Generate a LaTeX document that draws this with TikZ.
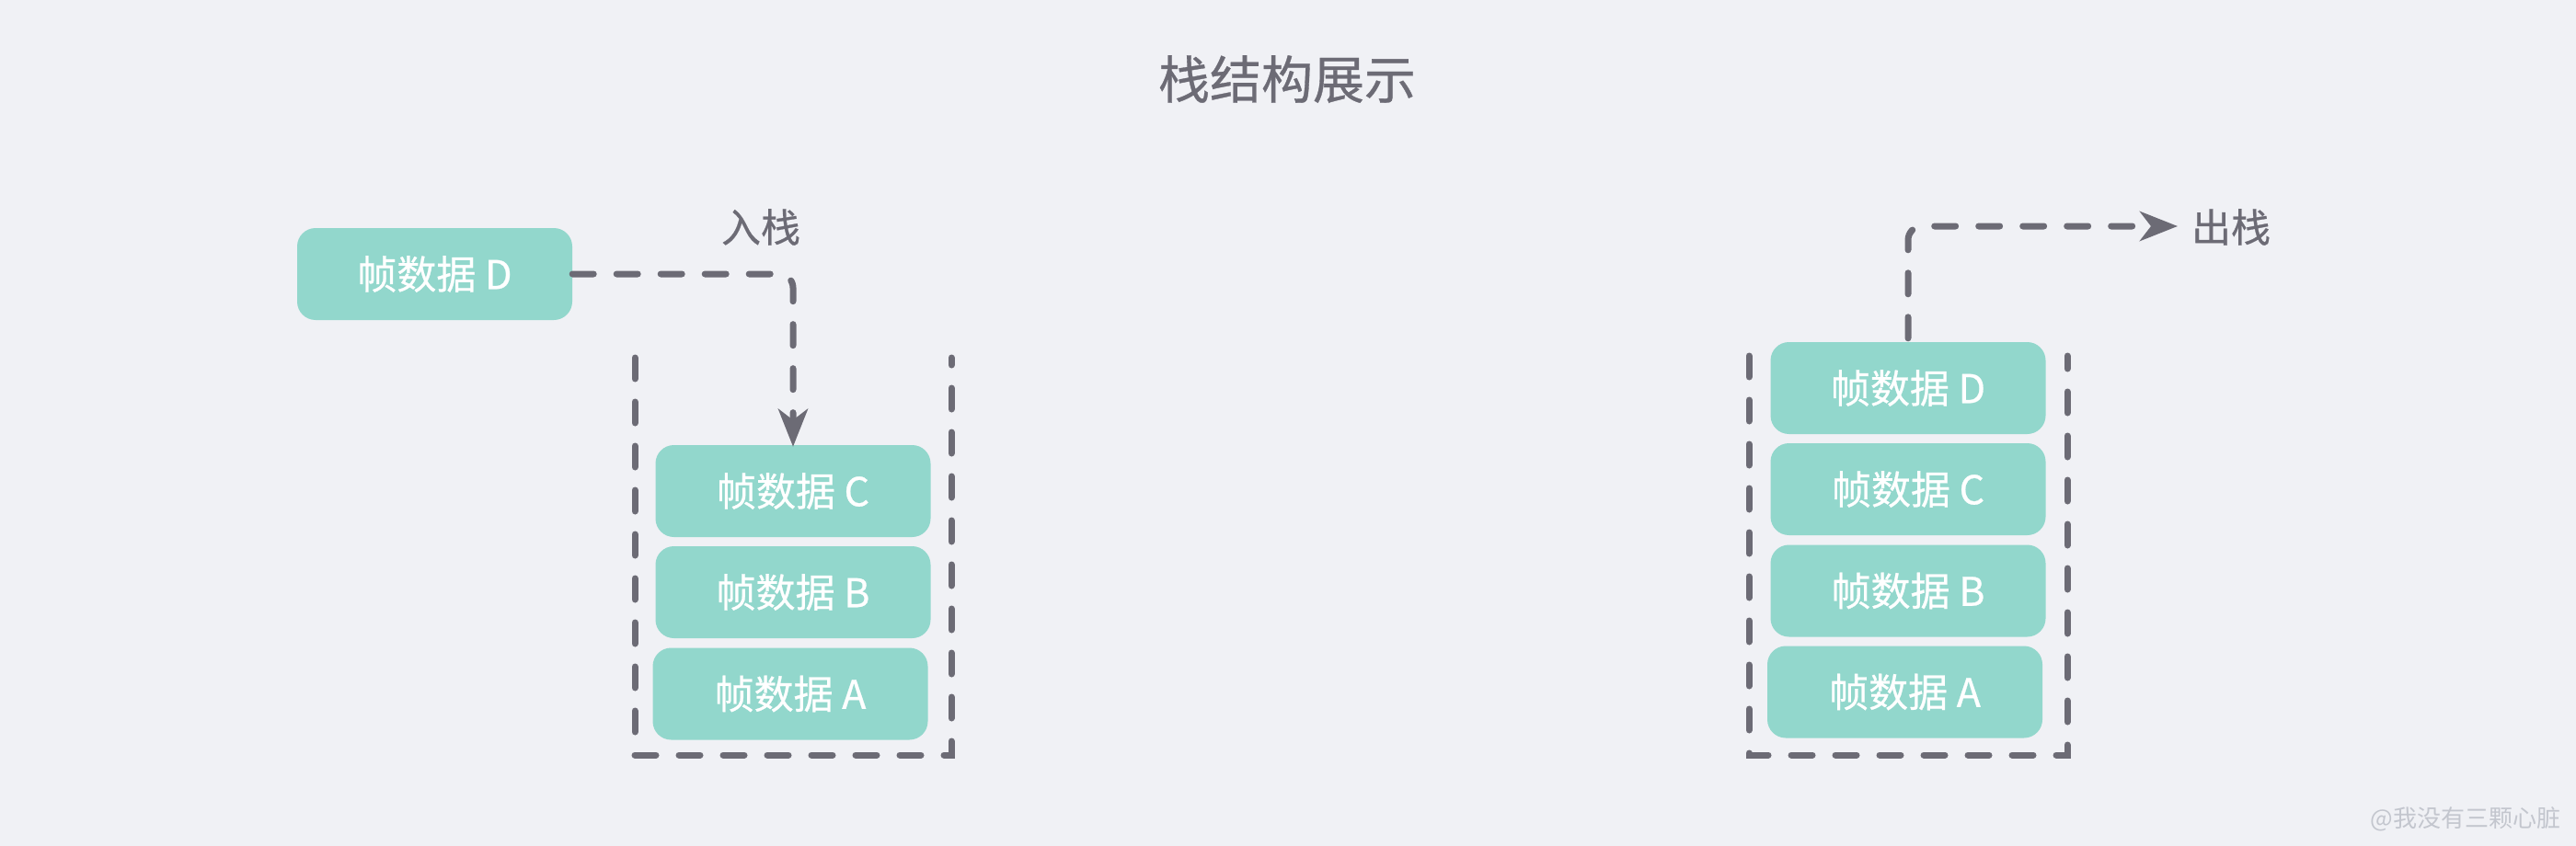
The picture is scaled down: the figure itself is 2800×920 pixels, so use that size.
\documentclass[tikz,border=0pt]{standalone}
\usepackage{fontspec}
\setmainfont{Noto Sans CJK SC}
\newfontfamily\medfont{Noto Sans CJK SC}[FakeBold=0.6]
\usetikzlibrary{arrows.meta}
\definecolor{bgc}{HTML}{F0F1F5}
\definecolor{boxc}{HTML}{92D7CC}
\definecolor{linec}{HTML}{6C6B75}
\definecolor{wmc}{HTML}{C3C6CE}
\tikzset{
  framebox/.style={fill=boxc, draw=none, rounded corners=20pt, minimum width=299pt, minimum height=100pt, inner sep=0pt, text=white, font=\medfont\fontsize{43}{48}\selectfont},
  dashline/.style={draw=linec, line width=7pt, line cap=round, dash pattern=on 23pt off 25pt},
  flow/.style={dashline, rounded corners=15pt, -{Stealth[length=41pt,width=32pt,inset=12pt]}},
  lbl/.style={text=linec, inner sep=0pt, font=\medfont\fontsize{43}{48}\selectfont},
}
\begin{document}
\begin{tikzpicture}[x=1pt,y=-1pt]
\fill[bgc] (0,0) rectangle (2800,920);
\useasboundingbox (0,0) rectangle (2800,920);
\node[text=linec, inner sep=0pt, font=\medfont\fontsize{56}{60}\selectfont] (title) at (1399,86) {栈结构展示};
% left stack
\node[framebox] (D1) at (472.5,298) {帧数据 D};
\node[framebox] (C1) at (862,534) {帧数据 C};
\node[framebox] (B1) at (862,644) {帧数据 B};
\node[framebox] (A1) at (859,754.5) {帧数据 A};
\coordinate (L1a) at (690,389);
\coordinate (L1b) at (690,821);
\coordinate (L1c) at (1034,821);
\coordinate (L1d) at (1034,389);
\draw[dashline] (L1a) -- (L1b) -- (L1c) -- (L1d);
\node[lbl] (push) at (827,247) {入栈};
\draw[flow] (D1.east) -| ([yshift=-2pt]C1.north);
% right stack
\node[framebox] (D2) at (2074,422) {帧数据 D};
\node[framebox] (C2) at (2074,532) {帧数据 C};
\node[framebox] (B2) at (2074,642.5) {帧数据 B};
\node[framebox] (A2) at (2070.5,752.5) {帧数据 A};
\coordinate (R1a) at (1901,387);
\coordinate (R1b) at (1901,821);
\coordinate (R1c) at (2247,821);
\coordinate (R1d) at (2247,387);
\draw[dashline] (R1a) -- (R1b) -- (R1c) -- (R1d);
\node[lbl] (pop) at (2425,247) {出栈};
\coordinate (popend) at (2367,246);
\draw[flow] ([yshift=4pt]D2.north) |- (popend);
\node[text=wmc, inner sep=0pt, font=\fontsize{26}{29}\selectfont] (wm) at (2680,891) {@我没有三颗心脏};
\end{tikzpicture}
\end{document}
